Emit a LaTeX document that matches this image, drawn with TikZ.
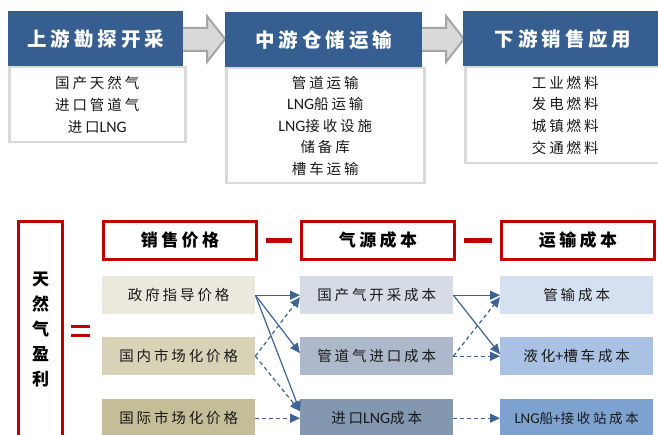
\documentclass[tikz,border=0pt]{standalone}
\usepackage{fontspec}
\setmainfont{Noto Sans CJK SC}
\newfontfamily\cjk[LetterSpace=20]{Noto Sans CJK SC}
\newfontfamily\latin[Scale=1.1]{Carlito}
\usetikzlibrary{arrows.meta}
\definecolor{hblue}{HTML}{365E90}
\definecolor{bgray}{HTML}{D9D9D9}
\definecolor{agray}{HTML}{A6A6A6}
\definecolor{afill}{HTML}{D9D9D9}
\definecolor{dred}{HTML}{C00000}
\definecolor{lblue}{HTML}{3C6496}
\definecolor{pa}{HTML}{EBE9DE}
\definecolor{pb}{HTML}{D8D3B6}
\definecolor{pc}{HTML}{C5BD97}
\definecolor{ca}{HTML}{D6DCE5}
\definecolor{cb}{HTML}{ADB9CA}
\definecolor{cc}{HTML}{8497B0}
\definecolor{ta}{HTML}{D5E0F0}
\definecolor{tb}{HTML}{A9C1E2}
\definecolor{tc}{HTML}{7EA2D0}
\newcommand\LNG{{\latin LNG}}
\tikzset{
  hdr/.style={fill=hblue, draw=none, text=white, inner sep=0pt, anchor=north west,
    font=\cjk\bfseries\fontsize{19.5}{22}\selectfont},
  bodybox/.style={fill=white, draw=bgray, line width=2.5pt, inner sep=0pt, anchor=north west,
    align=center, font=\cjk\fontsize{14.5}{21.6}\selectfont, text=black!90},
  topar/.style={fill=afill, draw=agray, line width=2pt, line join=miter},
  redbox/.style={fill=white, draw=dred, line width=3pt, inner sep=0pt, anchor=north west,
    minimum width=153pt, minimum height=38pt, font=\cjk\bfseries\fontsize{17}{20}\selectfont},
  rowbox/.style={draw=none, inner sep=0pt, anchor=north west, minimum width=153pt,
    minimum height=38pt, font=\cjk\fontsize{14.5}{17}\selectfont, text=black!90},
  redbar/.style={draw=dred, line width=4.5pt},
  eqbar/.style={draw=dred, line width=3pt},
  sol/.style={draw=lblue, line width=1.2pt, -{Triangle[length=10pt,width=9pt]}},
  dsh/.style={sol, dash pattern=on 4pt off 3pt},
}
\begin{document}
\begin{tikzpicture}[x=1pt,y=-1pt]
\clip (0,0) rectangle (658,435);
\fill[white] (0,0) rectangle (658,435);
% top arrows
\draw[topar] (178,28) -- (207,28) -- (207,16) -- (225,39) -- (207,62) -- (207,51) -- (178,51) -- cycle;
\draw[topar] (417,28) -- (446,28) -- (446,16) -- (464,39) -- (446,62) -- (446,51) -- (417,51) -- cycle;
% bodies
\node[bodybox, minimum width=176pt, minimum height=75pt] (b1) at (8,66)
  {国产天然气\\进口管道气\\进口\LNG};
\node[bodybox, minimum width=198pt, minimum height=115pt] (b2) at (225,67)
  {管道运输\\\LNG 船运输\\\LNG 接收设施\\储备库\\槽车运输};
\node[bodybox, minimum width=200pt, minimum height=96pt] (b3) at (464,66)
  {工业燃料\\发电燃料\\城镇燃料\\交通燃料};
% headers
\node[hdr, minimum width=175pt, minimum height=55pt] (h1) at (8,11) {上游勘探开采};
\node[hdr, minimum width=197pt, minimum height=55pt] (h2) at (225,12) {中游仓储运输};
\node[hdr, minimum width=200pt, minimum height=55pt] (h3) at (463,11) {下游销售应用};
% bottom
\node[fill=white, draw=dred, line width=3pt, inner sep=0pt, anchor=north west,
  minimum width=44pt, minimum height=216pt, align=center,
  font=\cjk\bfseries\fontsize{17}{25}\selectfont] (tot) at (17,220)
  {天\\然\\气\\盈\\利};
\draw[eqbar] (71,326.5) -- (90,326.5);
\draw[eqbar] (71,335.5) -- (90,335.5);
\node[redbox] (r1) at (102,220) {销售价格};
\node[redbox] (r2) at (300,220) {气源成本};
\node[redbox] (r3) at (500,220) {运输成本};
\draw[redbar] (r1.east) ++(8pt,0) -- ([xshift=-8pt]r2.west);
\draw[redbar] (r2.east) ++(8pt,0) -- ([xshift=-8pt]r3.west);
\node[rowbox, fill=pa] (p1) at (102,276) {政府指导价格};
\node[rowbox, fill=pb] (p2) at (102,337) {国内市场化价格};
\node[rowbox, fill=pc] (p3) at (102,399) {国际市场化价格};
\node[rowbox, fill=ca] (c1) at (300,276) {国产气开采成本};
\node[rowbox, fill=cb] (c2) at (300,337) {管道气进口成本};
\node[rowbox, fill=cc] (c3) at (300,399) {进口\LNG 成本};
\node[rowbox, fill=ta] (t1) at (500,276) {管输成本};
\node[rowbox, fill=tb] (t2) at (500,337) {液化{\latin+}槽车成本};
\node[rowbox, fill=tc, font=\cjk\fontsize{13.5}{16}\selectfont] (t3) at (500,399) {\LNG 船{\latin+}接收站成本};
% connectors
\draw[sol] (p1.east) -- (c1.west);
\draw[sol] (p1.east) -- ([yshift=3pt]c2.west);
\draw[sol] (p1.east) -- ([yshift=7pt]c3.west);
\draw[dsh] (p2.east) -- ([yshift=-2pt]c1.west);
\draw[dsh] (p2.east) -- ([yshift=7pt]c3.west);
\draw[dsh] (p3.east) -- (c3.west);
\draw[sol] (c1.east) -- (t1.west);
\draw[sol] (c1.east) -- ([yshift=2pt]t2.west);
\draw[dsh] (c2.east) -- ([yshift=-2pt]t1.west);
\draw[dsh] (c2.east) -- (t2.west);
\draw[dsh] (c3.east) -- (t3.west);
\end{tikzpicture}
\end{document}
